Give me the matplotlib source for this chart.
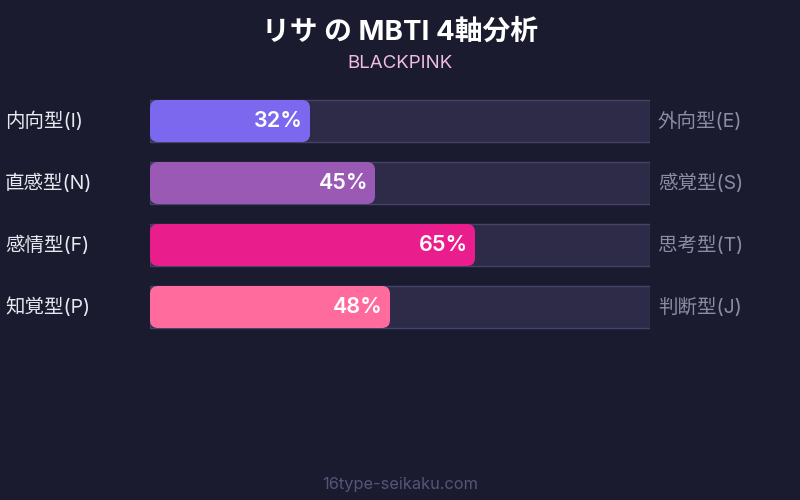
import matplotlib
matplotlib.use('Agg')
import matplotlib.pyplot as plt
from matplotlib.patches import FancyBboxPatch, Rectangle
from matplotlib import transforms

plt.rcParams['font.family'] = ['Inter', 'Noto Sans CJK JP', 'DejaVu Sans']

# Data
left_labels = ['内向型(I)', '直感型(N)', '感情型(F)', '知覚型(P)']
right_labels = ['外向型(E)', '感覚型(S)', '思考型(T)', '判断型(J)']
values = [32, 45, 65, 48]
colors = ['#7b68ee', '#9b59b6', '#e91e8c', '#ff6b9d']

title = 'リサ の MBTI 4軸分析'
subtitle = 'BLACKPINK'
footer = '16type-seikaku.com'

bg = '#1a1b2e'
W, H = 800, 500

fig = plt.figure(figsize=(W / 100, H / 100), dpi=100, facecolor=bg)
# bars area: x 150..650 px, y 90..338 px
ax = fig.add_axes([150 / W, 1 - 338 / H, 500 / W, 248 / H])
ax.set_xlim(0, 100)
ax.set_ylim(3.5, -0.5)
ax.axis('off')

bar_h = 42 / 62
r_x = 1.6                 # 8 px in x units
aspect = 5 / 62           # makes corner radius 8 px vertically too

lbl = transforms.blended_transform_factory(fig.transFigure, ax.transData)

for i, (v, c) in enumerate(zip(values, colors)):
    y0 = i - bar_h / 2
    ax.add_patch(Rectangle((0, y0), 100, bar_h, facecolor='#2d2b48',
                           edgecolor='#44446a', linewidth=1))
    ax.add_patch(FancyBboxPatch((0, y0), v, bar_h,
                                boxstyle=f'round,pad=0,rounding_size={r_x}',
                                mutation_aspect=aspect,
                                facecolor=c, edgecolor='none'))
    ax.text(v - 1.4, i, f'{v}%', ha='right', va='center', color='white',
            fontsize=15.5, fontweight='semibold')
    ax.text(5 / W, i, left_labels[i], transform=lbl, ha='left', va='center',
            color='#e8e8f0', fontsize=14)
    ax.text(658 / W, i, right_labels[i], transform=lbl, ha='left', va='center',
            color='#8c8ca6', fontsize=14)

fig.text(0.5, 1 - 33 / H, title, ha='center', va='center', color='white',
         fontsize=20, fontweight='bold')
fig.text(0.5, 1 - 64 / H, subtitle, ha='center', va='center', color='#f0bde0',
         fontsize=13.5)
fig.text(0.5, 1 - 484 / H, footer, ha='center', va='center', color='#55557a',
         fontsize=11.8)

fig.savefig('out.png', dpi=100, facecolor=bg)
